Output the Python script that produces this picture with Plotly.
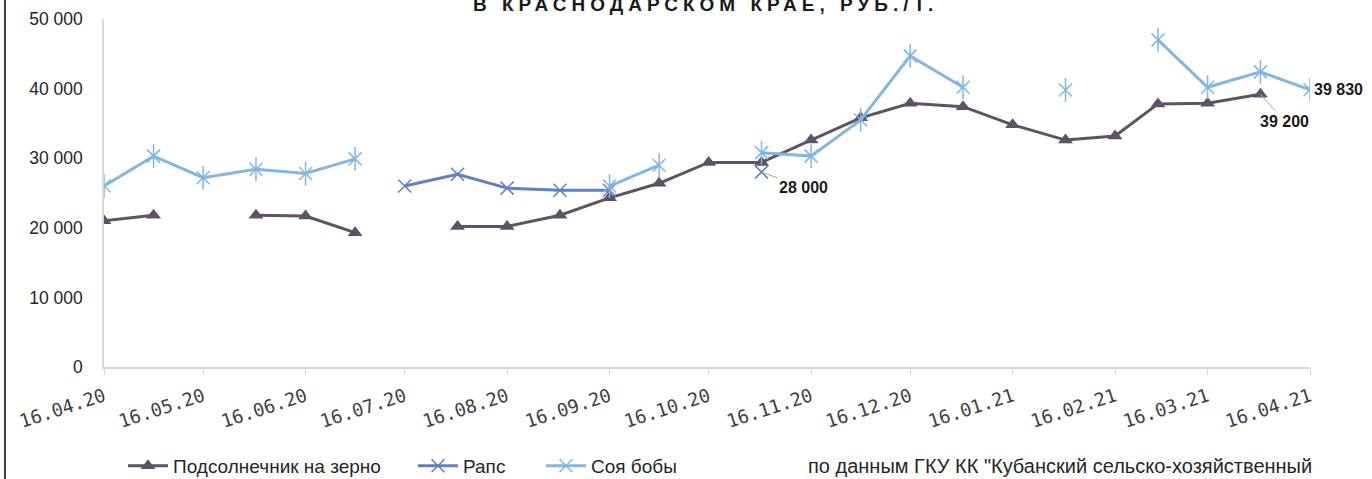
import plotly.graph_objects as go

dates = ["2020-04-16", "2020-05-01", "2020-05-16", "2020-06-01", "2020-06-16", "2020-07-01",
         "2020-07-16", "2020-08-01", "2020-08-16", "2020-09-01", "2020-09-16", "2020-10-01",
         "2020-10-16", "2020-11-01", "2020-11-16", "2020-12-01", "2020-12-16", "2021-01-01",
         "2021-01-16", "2021-02-01", "2021-02-16", "2021-03-01", "2021-03-16", "2021-04-01",
         "2021-04-16"]
sunflower = [21000, 21800, None, 21800, 21700, 19300, None, 20200, 20200, 21800, 24300, 26400,
             29400, 29400, 32600, 35800, 37900, 37400, 34800, 32600, 33200, 37800, 37900, 39200,
             None]
rapeseed = [None, None, None, None, None, None, 26000, 27700, 25700, 25400, 25400, None,
            None, 28000, None, None, None, None, None, None, None, None, None, None, None]
soy = [26000, 30300, 27200, 28400, 27800, 29900, None, None, None, None, 26000, 29000,
       None, 30800, 30300, 35500, 44700, 40200, None, 39800, None, 47000, 40200, 42400,
       39830]
series_names = ["Подсолнечник на зерно", "Рапс", "Соя бобы"]
tick_vals = ["2020-04-16", "2020-05-16", "2020-06-16", "2020-07-16", "2020-08-16", "2020-09-16",
             "2020-10-16", "2020-11-16", "2020-12-16", "2021-01-16", "2021-02-16", "2021-03-16",
             "2021-04-16"]
tick_text = ["16.04.20", "16.05.20", "16.06.20", "16.07.20", "16.08.20", "16.09.20", "16.10.20",
             "16.11.20", "16.12.20", "16.01.21", "16.02.21", "16.03.21", "16.04.21"]
title_line = "В КРАСНОДАРСКОМ КРАЕ, РУБ./Т."
source_text = 'по данным ГКУ КК "Кубанский сельско-хозяйственный'

c_sun = "#5d5366"
c_rap = "#5f7fc6"
c_soy = "#82b6e3"

PL, PW = 104, 1206  # plot-area left and width in pixels


def px(xpix):
    return (xpix - PL) / PW


fig = go.Figure()
fig.add_trace(go.Scatter(x=dates, y=sunflower, name=series_names[0], mode="lines+markers",
                         line=dict(color=c_sun, width=3),
                         marker=dict(symbol="triangle-up", size=13, color=c_sun),
                         connectgaps=False, legend="legend"))
fig.add_trace(go.Scatter(x=dates, y=rapeseed, name=series_names[1], mode="lines+markers",
                         line=dict(color=c_rap, width=3),
                         marker=dict(symbol="x-thin-open", size=13, color=c_rap,
                                     line=dict(color=c_rap, width=1.5)),
                         connectgaps=False, legend="legend2"))
fig.add_trace(go.Scatter(x=dates, y=soy, name=series_names[2], mode="lines+markers",
                         line=dict(color=c_soy, width=3),
                         marker=dict(symbol="x-thin-open", size=13, color=c_soy,
                                     line=dict(color=c_soy, width=1.5)),
                         connectgaps=False, legend="legend3"))
fig.add_trace(go.Scatter(x=dates, y=soy, mode="markers", showlegend=False, hoverinfo="skip",
                         marker=dict(symbol="line-ns-open", size=17, color=c_soy,
                                     line=dict(color=c_soy, width=1.5))))

leg_common = dict(orientation="h", y=-0.284, yanchor="middle", xanchor="left",
                  font=dict(family="Liberation Sans", size=19, color="#262626"),
                  itemwidth=40, bgcolor="rgba(0,0,0,0)")

fig.update_layout(
    width=1372, height=479,
    margin=dict(l=PL, r=1372 - PL - PW, t=19, b=112, autoexpand=False),
    paper_bgcolor="white", plot_bgcolor="white",
    separators=", ",
    font=dict(family="Liberation Sans", size=16, color="#404040"),
    showlegend=True,
    legend=dict(x=px(123), **leg_common),
    legend2=dict(x=px(413), **leg_common),
    legend3=dict(x=px(541), **leg_common),
    xaxis=dict(type="date", range=["2020-04-16", "2021-04-16"], tickvals=tick_vals,
               ticktext=tick_text, tickangle=-18, showgrid=False, zeroline=False,
               showline=True, linecolor="#d9d9d9", linewidth=1.5,
               ticks="outside", ticklen=6, tickcolor="#d9d9d9", automargin=False,
               ticklabelstandoff=4,
               tickfont=dict(family="DejaVu Sans Mono", size=18.5, color="#404040")),
    yaxis=dict(range=[0, 50000], dtick=10000, tickformat=",d", showgrid=False, zeroline=False,
               showline=True, linecolor="#d9d9d9", linewidth=1.5, ticks="",
               ticklabelstandoff=16, automargin=False,
               tickfont=dict(family="Liberation Sans", size=17.5, color="#262626")),
)

# data labels
lab_font = dict(family="Liberation Sans", size=16, color="#1a1a1a")
fig.add_annotation(x=dates[13], y=rapeseed[13], text="<b>28 000</b>", showarrow=True,
                   arrowhead=0, arrowwidth=1, arrowcolor="#a6a6a6", ax=42, ay=15,
                   font=lab_font)
fig.add_annotation(x=dates[23], y=sunflower[23], text="<b>39 200</b>", showarrow=True,
                   arrowhead=0, arrowwidth=1, arrowcolor="#a6a6a6", ax=24, ay=27,
                   font=lab_font)
fig.add_annotation(x=dates[24], y=soy[24], text="<b>39 830</b>", showarrow=False,
                   xanchor="left", xshift=2, font=lab_font)

# title (cut at top, as in the reference)
fig.add_annotation(xref="paper", yref="paper", x=px(705), y=1 + 2 / 348, yanchor="bottom",
                   text='<b><span style="letter-spacing:5px">' + title_line + '</span></b>',
                   showarrow=False, font=dict(family="Liberation Sans", size=19, color="#1a1a1a"))

# source note
fig.add_annotation(xref="paper", yref="paper", x=px(806), y=-0.284, xanchor="left",
                   yanchor="middle", text=source_text, showarrow=False,
                   font=dict(family="Liberation Sans", size=20, color="#262626"))

# left frame line
fig.add_shape(type="line", xref="paper", yref="paper", x0=px(5), x1=px(5),
              y0=(367 - 479) / 348, y1=(367 + 5) / 348, line=dict(color="#404040", width=2))

fig.write_html("out.html", config={"displayModeBar": False},
               post_script="document.body.style.margin='0';")
